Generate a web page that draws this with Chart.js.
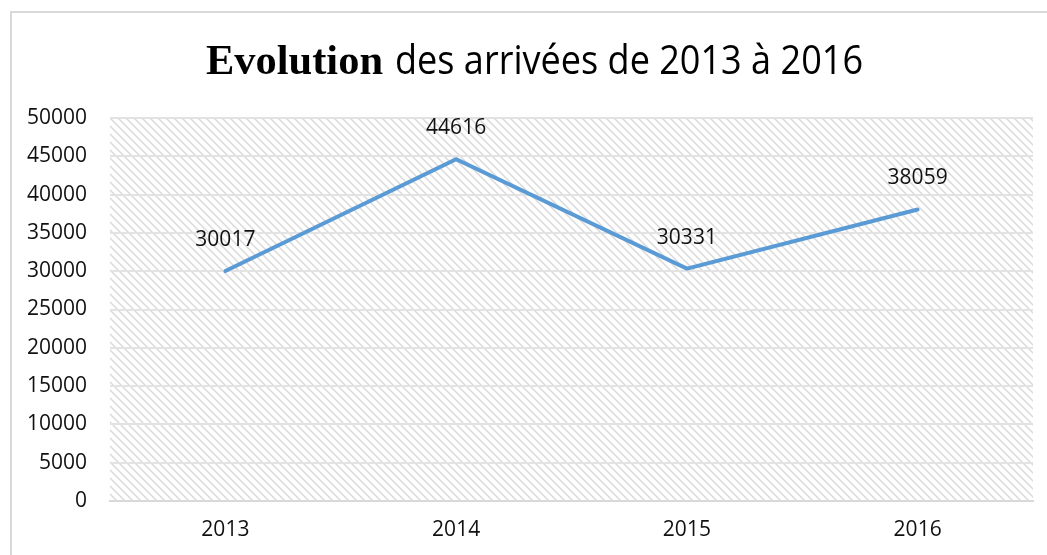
<!DOCTYPE html>
<html>
<head>
<meta charset="utf-8">
<script src="https://cdn.jsdelivr.net/npm/chart.js@4/dist/chart.umd.min.js"></script>
<style>
  html, body { margin: 0; padding: 0; background: #ffffff; }
  #wrap { width: 1047px; height: 555px; position: relative; }
</style>
</head>
<body>
<div id="wrap"><canvas id="c" width="1047" height="555"></canvas></div>
<script>
const categories = ['2013', '2014', '2015', '2016'];
const arrivals = [30017, 44616, 30331, 38059];
const titleBold = 'Evolution';
const titleRest = 'des arrivées de 2013 à 2016';
const yMin = 0, yMax = 50000, yStep = 5000;

function makeHatch() {
  const s = 8;
  const c = document.createElement('canvas');
  c.width = s; c.height = s;
  const g = c.getContext('2d');
  g.fillStyle = '#ffffff';
  g.fillRect(0, 0, s, s);
  g.strokeStyle = '#dadada';
  g.lineWidth = 1.5;
  g.beginPath();
  g.moveTo(-2, -2); g.lineTo(s + 2, s + 2);
  g.moveTo(-2, s - 2); g.lineTo(2, s + 2);
  g.moveTo(s - 2, -2); g.lineTo(s + 2, 2);
  g.stroke();
  return c;
}

const decor = {
  id: 'decor',
  beforeDraw(chart) {
    const ctx = chart.ctx;
    const a = chart.chartArea;
    ctx.save();
    ctx.fillStyle = '#ffffff';
    ctx.fillRect(0, 0, chart.width, chart.height);
    ctx.strokeStyle = '#d9d9d9';
    ctx.lineWidth = 2;
    ctx.beginPath();
    ctx.moveTo(11, chart.height);
    ctx.lineTo(11, 12);
    ctx.lineTo(chart.width, 12);
    ctx.stroke();
    const pat = ctx.createPattern(makeHatch(), 'repeat');
    ctx.fillStyle = pat;
    ctx.fillRect(a.left, a.top, a.right - a.left, a.bottom - a.top);
    ctx.fillStyle = '#000000';
    ctx.textAlign = 'left';
    ctx.textBaseline = 'alphabetic';
    ctx.font = 'bold 43px "Liberation Serif"';
    ctx.fillText(titleBold, 206, 74, 177);
    ctx.font = '40px "Open Sans"';
    ctx.fillText(titleRest, 395, 74, 468);
    ctx.restore();
  },
  afterDatasetsDraw(chart) {
    const ctx = chart.ctx;
    const meta = chart.getDatasetMeta(0);
    ctx.save();
    ctx.fillStyle = '#111111';
    ctx.font = '21px "Open Sans"';
    ctx.textAlign = 'center';
    ctx.textBaseline = 'middle';
    meta.data.forEach((pt, i) => {
      ctx.fillText(String(arrivals[i]), pt.x, pt.y - 31);
    });
    ctx.restore();
  }
};

new Chart(document.getElementById('c'), {
  type: 'line',
  data: {
    labels: categories,
    datasets: [{
      data: arrivals,
      borderColor: '#5b9bd5',
      borderWidth: 4,
      tension: 0,
      pointRadius: 0,
      pointHoverRadius: 0,
      fill: false,
      borderCapStyle: 'round',
      borderJoinStyle: 'miter'
    }]
  },
  options: {
    responsive: false,
    animation: false,
    events: [],
    layout: { padding: { left: 0, top: 118, right: 14, bottom: 0 } },
    plugins: {
      legend: { display: false },
      title: { display: false },
      tooltip: { enabled: false }
    },
    scales: {
      x: {
        offset: true,
        grid: { display: false, drawTicks: false },
        border: { display: true, color: '#d9d9d9', width: 2 },
        ticks: { color: '#111111', font: { family: 'Open Sans', size: 21 }, padding: 16, maxRotation: 0 },
        afterFit(s) { s.height = 54; }
      },
      y: {
        min: yMin,
        max: yMax,
        grid: { color: '#e3e3e3', lineWidth: 2, drawTicks: false },
        border: { display: false },
        ticks: {
          stepSize: yStep,
          color: '#111111',
          font: { family: 'Open Sans', size: 21 },
          padding: 23,
          callback: (v) => String(v)
        },
        afterFit(s) { s.width = 110; }
      }
    }
  },
  plugins: [decor]
});
</script>
</body>
</html>
